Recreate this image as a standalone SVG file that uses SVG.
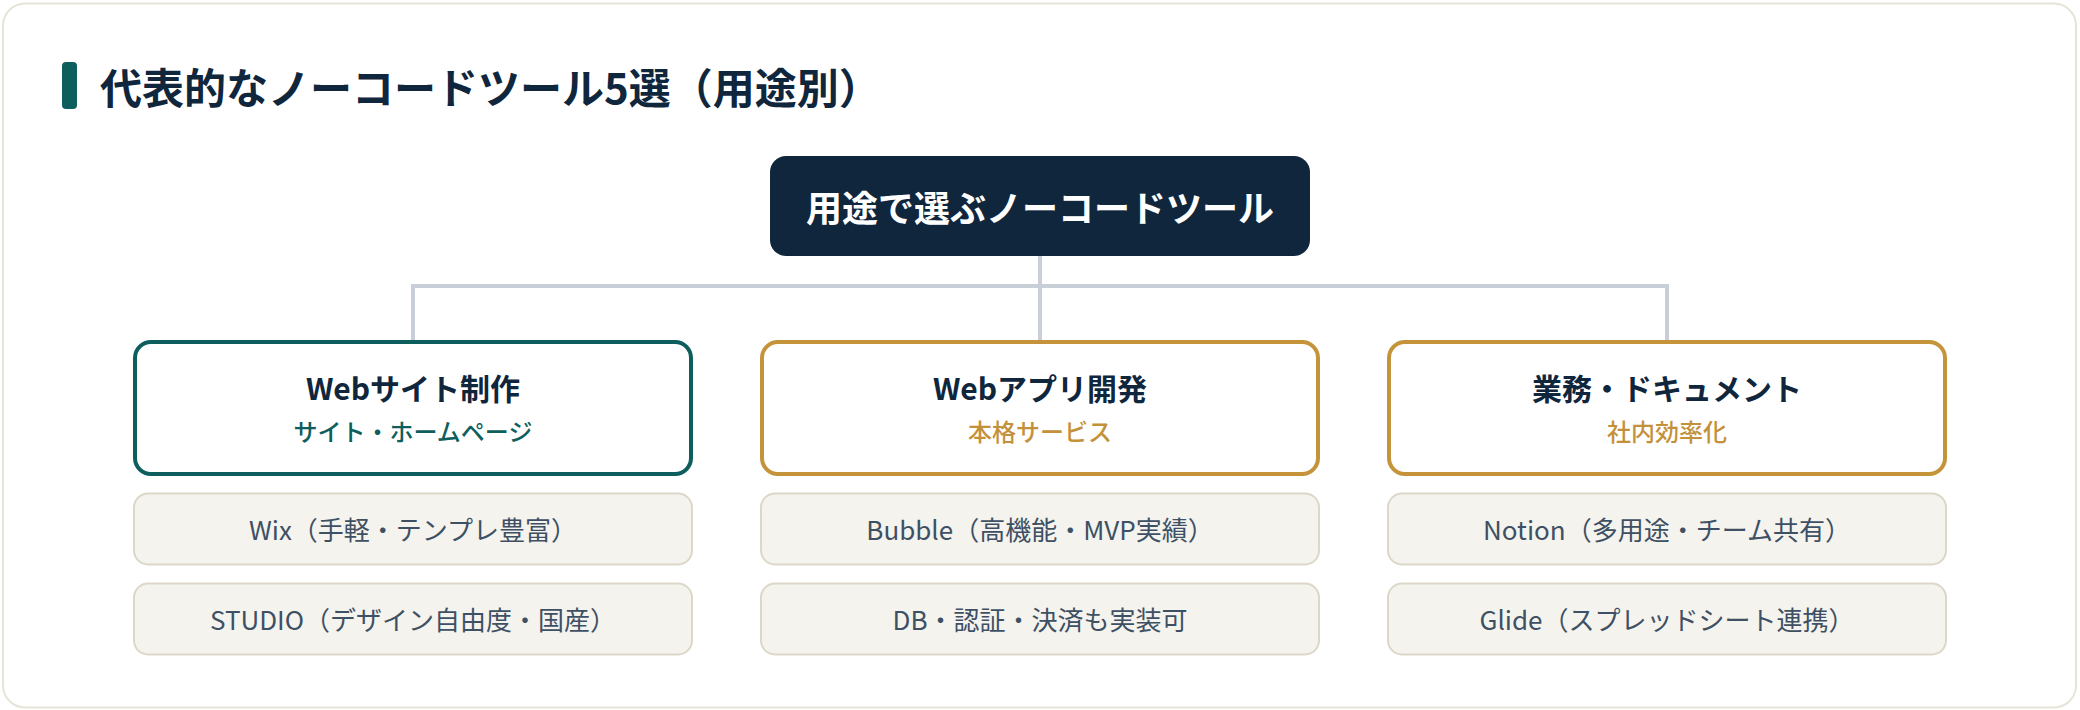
<svg xmlns="http://www.w3.org/2000/svg" width="2080" height="710" viewBox="0 0 2080 710">
<style>
  text { font-family: "Noto Sans CJK JP", "Noto Sans", sans-serif; }
  .title { font-size: 42px; font-weight: 700; fill: #10263d; }
  .root-t { font-size: 36px; font-weight: 700; fill: #ffffff; }
  .hbox { fill: #ffffff; stroke-width: 4; }
  .teal { stroke: #0d5e5c; }
  .gold { stroke: #c5933a; }
  .h { font-size: 30px; font-weight: 700; fill: #10263d; text-anchor: middle; }
  .sub { font-size: 24px; font-weight: 500; text-anchor: middle; }
  .sub-teal { fill: #0d5e5c; }
  .sub-gold { fill: #c3913a; }
  .item rect { fill: #f5f3ee; stroke: #dcd7c8; stroke-width: 2; }
  .item text { font-size: 26px; fill: #3e5064; text-anchor: middle; }
  .conn { stroke: #c9cfd8; stroke-width: 4; fill: none; stroke-linejoin: miter; }
</style>
<rect x="0" y="0" width="2080" height="710" fill="#ffffff"/>
<rect x="3" y="3.5" width="2073" height="704" rx="22" fill="#ffffff" stroke="#e6e3d7" stroke-width="2"/>

<g id="heading">
  <rect x="62" y="62" width="15" height="47" rx="4" fill="#0d5e5c"/>
  <text class="title" x="100" y="104">代表的なノーコードツール5選（用途別）</text>
</g>

<g id="connectors">
  <path class="conn" d="M1040 256 V340"/>
  <path class="conn" d="M413 340 V286 H1667 V340"/>
</g>

<g id="root">
  <rect x="770" y="156" width="540" height="100" rx="16" fill="#10263d"/>
  <text class="root-t" x="1040" y="222" text-anchor="middle">用途で選ぶノーコードツール</text>
</g>

<g id="cat-web">
  <rect class="hbox teal" x="135" y="342" width="556" height="132" rx="16"/>
  <text class="h" x="413" y="400">Webサイト制作</text>
  <text class="sub sub-teal" x="413" y="441">サイト・ホームページ</text>
</g>
<g id="cat-app">
  <rect class="hbox gold" x="762" y="342" width="556" height="132" rx="16"/>
  <text class="h" x="1040" y="400">Webアプリ開発</text>
  <text class="sub sub-gold" x="1040" y="441">本格サービス</text>
</g>
<g id="cat-biz">
  <rect class="hbox gold" x="1389" y="342" width="556" height="132" rx="16"/>
  <text class="h" x="1667" y="400">業務・ドキュメント</text>
  <text class="sub sub-gold" x="1667" y="441">社内効率化</text>
</g>

<g id="item-wix" class="item">
  <rect x="134" y="493.5" width="558" height="71" rx="14"/>
  <text x="413" y="540">Wix（手軽・テンプレ豊富）</text>
</g>
<g id="item-studio" class="item">
  <rect x="134" y="583.5" width="558" height="71" rx="14"/>
  <text x="413" y="630">STUDIO（デザイン自由度・国産）</text>
</g>
<g id="item-bubble" class="item">
  <rect x="761" y="493.5" width="558" height="71" rx="14"/>
  <text x="1040" y="540">Bubble（高機能・MVP実績）</text>
</g>
<g id="item-db" class="item">
  <rect x="761" y="583.5" width="558" height="71" rx="14"/>
  <text x="1040" y="630">DB・認証・決済も実装可</text>
</g>
<g id="item-notion" class="item">
  <rect x="1388" y="493.5" width="558" height="71" rx="14"/>
  <text x="1667" y="540">Notion（多用途・チーム共有）</text>
</g>
<g id="item-glide" class="item">
  <rect x="1388" y="583.5" width="558" height="71" rx="14"/>
  <text x="1667" y="630">Glide（スプレッドシート連携）</text>
</g>
</svg>
